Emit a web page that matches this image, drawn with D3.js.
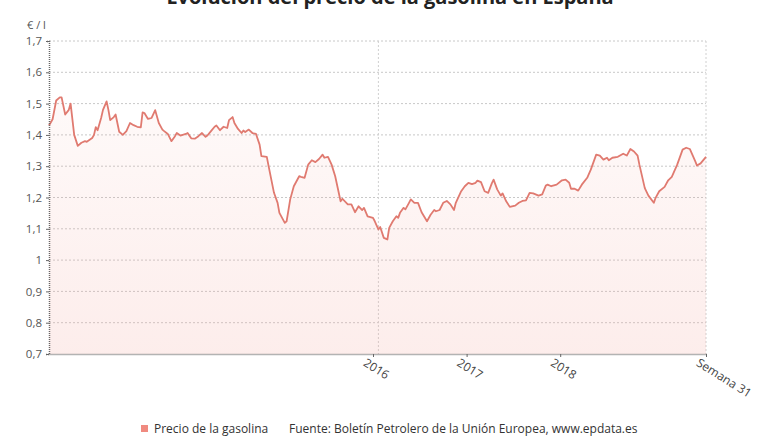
<!DOCTYPE html>
<html>
<head>
<meta charset="utf-8">
<script src="https://cdn.jsdelivr.net/npm/d3@7"></script>
<style>
  body { margin: 0; background: #fff; }
  svg { font-family: "Open Sans", sans-serif; }
</style>
</head>
<body>
<div id="chart"></div>
<script>
// semanas desde la semana 31 de 2012, precio en euros por litro
const semanas = [0,2,4,6,7,9,11,12,14,16,18,20,21,24,25,26,27,29,30,32,33,34,36,37,39,41,43,45,47,49,51,52,53,55,57,59,61,63,64,66,68,70,71,73,76,77,79,81,83,85,87,88,90,92,
  93,95,97,99,100,102,103,105,107,108,109,111,113,115,117,118,121,122,125,127,128,131,132,134,136,139,140,142,144,146,148,150,152,153,155,157,159,162,163,166,168,170,172,174,175,177,180,
  181,183,184,186,188,189,191,193,194,195,197,198,200,201,203,205,207,210,212,214,215,217,219,221,223,225,226,229,231,233,235,237,238,240,242,244,246,247,249,251,252,254,256,259,261,263,265,267,269,272,274,
  276,277,279,282,285,287,289,290,292,294,296,299,301,304,306,308,310,311,313,316,319,321,323,325,327,328,331,333,336,337,339,342,344,346,349,352,354,356,359,360,362,365];
const precio = [1.43,1.45,1.51,1.52,1.52,1.465,1.48,1.50,1.40,1.365,1.375,1.38,1.378,1.39,1.40,1.425,1.415,1.455,1.48,1.507,1.48,1.447,1.457,1.465,1.41,1.40,1.412,1.438,1.431,1.426,1.424,1.472,1.47,1.451,1.454,1.479,1.438,1.417,1.412,1.403,1.38,1.396,1.406,1.398,1.403,1.406,1.389,1.388,1.396,1.406,1.394,1.398,1.412,1.426,
  1.43,1.415,1.426,1.422,1.447,1.457,1.438,1.419,1.406,1.414,1.409,1.417,1.406,1.403,1.369,1.332,1.33,1.30,1.215,1.183,1.151,1.119,1.124,1.194,1.236,1.268,1.266,1.263,1.305,1.319,1.313,1.323,1.337,1.327,1.33,1.305,1.268,1.188,1.196,1.178,1.178,1.153,1.172,1.16,1.167,1.14,1.135,
  1.124,1.098,1.106,1.071,1.066,1.103,1.124,1.14,1.135,1.151,1.167,1.162,1.183,1.194,1.183,1.183,1.153,1.124,1.145,1.16,1.156,1.16,1.183,1.189,1.178,1.16,1.183,1.22,1.236,1.247,1.243,1.247,1.254,1.249,1.22,1.215,1.245,1.257,1.226,1.206,1.213,1.188,1.17,1.174,1.183,1.189,1.191,1.215,1.213,1.206,1.21,
  1.238,1.241,1.236,1.241,1.255,1.257,1.247,1.228,1.228,1.222,1.241,1.263,1.289,1.337,1.334,1.321,1.327,1.319,1.327,1.33,1.34,1.334,1.355,1.347,1.334,1.305,1.23,1.206,1.183,1.199,1.22,1.234,1.255,1.266,1.305,1.353,1.359,1.355,1.316,1.302,1.309,1.33];

const yTicks = [0.7,0.8,0.9,1,1.1,1.2,1.3,1.4,1.5,1.6,1.7];
const xTicks = [180,232,284,365];
const xLabels = ["2016","2017","2018","Semana 31"];
const lineaVertical = 183;

const width = 780, height = 440;
const margin = {top: 41, right: 74, bottom: 86, left: 49};

const svg = d3.select("#chart").append("svg")
    .attr("width", width)
    .attr("height", height);

const x = d3.scaleLinear().domain([0, 365]).range([margin.left, width - margin.right]);
const y = d3.scaleLinear().domain([0.7, 1.7]).range([height - margin.bottom, margin.top]);

const es = d3.formatLocale({decimal: ",", thousands: ".", grouping: [3], currency: ["", "€"]});
const fmt = es.format(".1~f");

// gradient for the area
const grad = svg.append("defs").append("linearGradient")
    .attr("id", "relleno").attr("x1", 0).attr("y1", 0).attr("x2", 0).attr("y2", 1);
grad.append("stop").attr("offset", "0%").attr("stop-color", "#f4a59c").attr("stop-opacity", 0.06);
grad.append("stop").attr("offset", "100%").attr("stop-color", "#f4a59c").attr("stop-opacity", 0.2);

// title (cut at top like the original)
svg.append("text")
    .attr("x", 390).attr("y", 4)
    .attr("text-anchor", "middle")
    .attr("font-size", 20).attr("font-weight", "bold").attr("fill", "#222")
    .text("Evolución del precio de la gasolina en España");

svg.append("text")
    .attr("x", 27).attr("y", 29)
    .attr("font-size", 11).attr("fill", "#555")
    .text("€ / l");

// grid
svg.append("g").selectAll("line")
    .data(yTicks.slice(1))
    .join("line")
    .attr("x1", x(0)).attr("x2", x(365))
    .attr("y1", d => y(d)).attr("y2", d => y(d))
    .attr("stroke", "#c8c8c8").attr("stroke-dasharray", "2,2");

svg.append("line")
    .attr("x1", x(365)).attr("x2", x(365))
    .attr("y1", y(1.7)).attr("y2", y(0.7))
    .attr("stroke", "#d0d0d0").attr("stroke-dasharray", "2,2");

svg.append("line")
    .attr("x1", x(lineaVertical)).attr("x2", x(lineaVertical))
    .attr("y1", y(1.7)).attr("y2", y(0.7))
    .attr("stroke", "#d0d0d0").attr("stroke-dasharray", "2,2");

const datos = semanas.map((s, i) => ({s: s, v: precio[i]}));

const area = d3.area()
    .x(d => x(d.s))
    .y0(y(0.7))
    .y1(d => y(d.v));

svg.append("path")
    .datum(datos)
    .attr("d", area)
    .attr("fill", "url(#relleno)");

const line = d3.line()
    .x(d => x(d.s))
    .y(d => y(d.v));

svg.append("path")
    .datum(datos)
    .attr("d", line)
    .attr("fill", "none")
    .attr("stroke", "#e07a70")
    .attr("stroke-width", 1.8)
    .attr("stroke-linejoin", "round");

// y axis
const yAxis = svg.append("g")
    .attr("transform", `translate(${margin.left},0)`)
    .call(d3.axisLeft(y).tickValues(yTicks).tickFormat(fmt).tickSize(3).tickPadding(4));
yAxis.select(".domain").attr("stroke", "#666").attr("stroke-width", 1.5).attr("stroke-dasharray", "1,1");
yAxis.selectAll(".tick line").attr("stroke", "#666");
yAxis.selectAll(".tick text").attr("font-size", 11.5).attr("fill", "#555").attr("font-family", "Open Sans");

// x axis
const xAxis = svg.append("g")
    .attr("transform", `translate(0,${height - margin.bottom})`)
    .call(d3.axisBottom(x).tickValues(xTicks).tickFormat((d, i) => xLabels[i]).tickSize(3).tickSizeOuter(0));
xAxis.select(".domain").attr("stroke", "#666").attr("stroke-width", 1.5).attr("stroke-dasharray", "1,1");
xAxis.selectAll(".tick line").attr("stroke", "#666");
xAxis.selectAll(".tick text")
    .attr("font-size", 12).attr("fill", "#444").attr("font-family", "Open Sans")
    .attr("text-anchor", "start")
    .attr("dy", null)
    .attr("y", 0)
    .attr("transform", "translate(-11,11) rotate(32)");

// legend
svg.append("rect")
    .attr("x", 141).attr("y", 425)
    .attr("width", 7).attr("height", 7)
    .attr("fill", "#f08a80");
svg.append("text")
    .attr("x", 154).attr("y", 433)
    .attr("font-size", 12).attr("fill", "#333")
    .text("Precio de la gasolina");
svg.append("text")
    .attr("x", 289).attr("y", 433)
    .attr("font-size", 12).attr("fill", "#333")
    .text("Fuente: Boletín Petrolero de la Unión Europea, www.epdata.es");
</script>
</body>
</html>
